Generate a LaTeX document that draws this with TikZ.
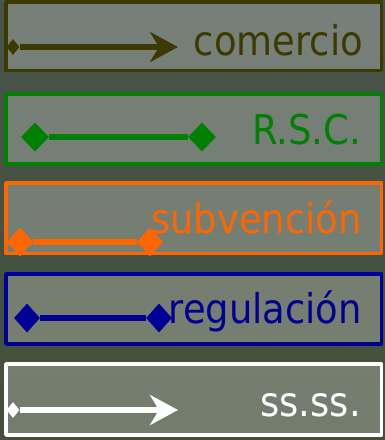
\documentclass[tikz,border=0pt]{standalone}
\usepackage{fontspec}
\setmainfont{DejaVu Sans Condensed}
\usetikzlibrary{arrows.meta,shapes.geometric}
\definecolor{comcol}{RGB}{60,58,0}
\definecolor{rsccol}{RGB}{0,128,0}
\definecolor{subcol}{RGB}{255,102,0}
\definecolor{regcol}{RGB}{0,0,150}
\definecolor{fondoA}{RGB}{72,84,74}
\definecolor{fondoB}{RGB}{50,55,46}
\definecolor{fondoC}{RGB}{68,80,58}
\begin{document}
\begin{tikzpicture}[x=1pt,y=-1pt,line join=round,>={Stealth[length=28pt,width=30pt,inset=9pt]},font=\fontsize{41}{48}\selectfont]
	\tikzset{caja/.style={draw=#1,line width=3.5pt,fill=white,fill opacity=0.26},
		rombo/.style={shape=diamond,fill=#1,inner sep=0pt,minimum width=28pt,minimum height=29pt},
		punta/.style={shape=diamond,fill=#1,inner sep=0pt,minimum width=13pt,minimum height=16pt},
		rotulo/.style={text=#1,anchor=base east,inner sep=0pt}}
	\def\xl{6} \def\xr{381.5} %bordes izquierdo y derecho
	\useasboundingbox (0,0) rectangle (385,440);
	\shade[top color=fondoA,middle color=fondoB,bottom color=fondoC] (0,0) rectangle (385,440);
	% cajas
	\draw[caja=comcol] (\xl,2) rectangle (\xr,70.5);
	\draw[caja=rsccol] (\xl,94) rectangle (\xr,164);
	\draw[caja=subcol] (\xl,183) rectangle (\xr,253.5);
	\draw[caja=regcol] (\xl,274) rectangle (\xr,344);
	\draw[caja=white] (\xl,364) rectangle (\xr,435);
	% comercio
	\node[punta=comcol] (com1) at (13,47) {};
	\coordinate (com2) at (178,47);
	\draw[->,comcol,line width=6pt] (com1) -- (com2);
	\node[rotulo=comcol] (com) at (363,55) {comercio};
	% R.S.C.
	\node[rombo=rsccol] (rsc1) at (35,137) {};
	\node[rombo=rsccol] (rsc2) at (202,137) {};
	\draw[rsccol,line width=6pt] (rsc1) -- (rsc2);
	\node[rotulo=rsccol] (rsc) at (361,144) {R.S.C.};
	% subvencion
	\node[rotulo=subcol] (sub) at (362,233) {subvención};
	\node[rombo=subcol,minimum width=26pt] (sub1) at (20,242) {};
	\node[rombo=subcol,minimum width=26pt] (sub2) at (150,242) {};
	\draw[subcol,line width=6pt] (sub1) -- (sub2);
	% regulacion
	\node[rombo=regcol,minimum width=26pt] (reg1) at (27,318) {};
	\node[rombo=regcol,minimum width=26pt] (reg2) at (159,318) {};
	\draw[regcol,line width=6pt] (reg1) -- (reg2);
	\node[rotulo=regcol] (reg) at (362,323) {regulación};
	% ss.ss.
	\node[punta=white] (ss1) at (13,410) {};
	\coordinate (ss2) at (178,410);
	\draw[->,white,line width=6pt] (ss1) -- (ss2);
	\node[rotulo=white] (ss) at (361,416) {ss.ss.};
\end{tikzpicture}
\end{document}
